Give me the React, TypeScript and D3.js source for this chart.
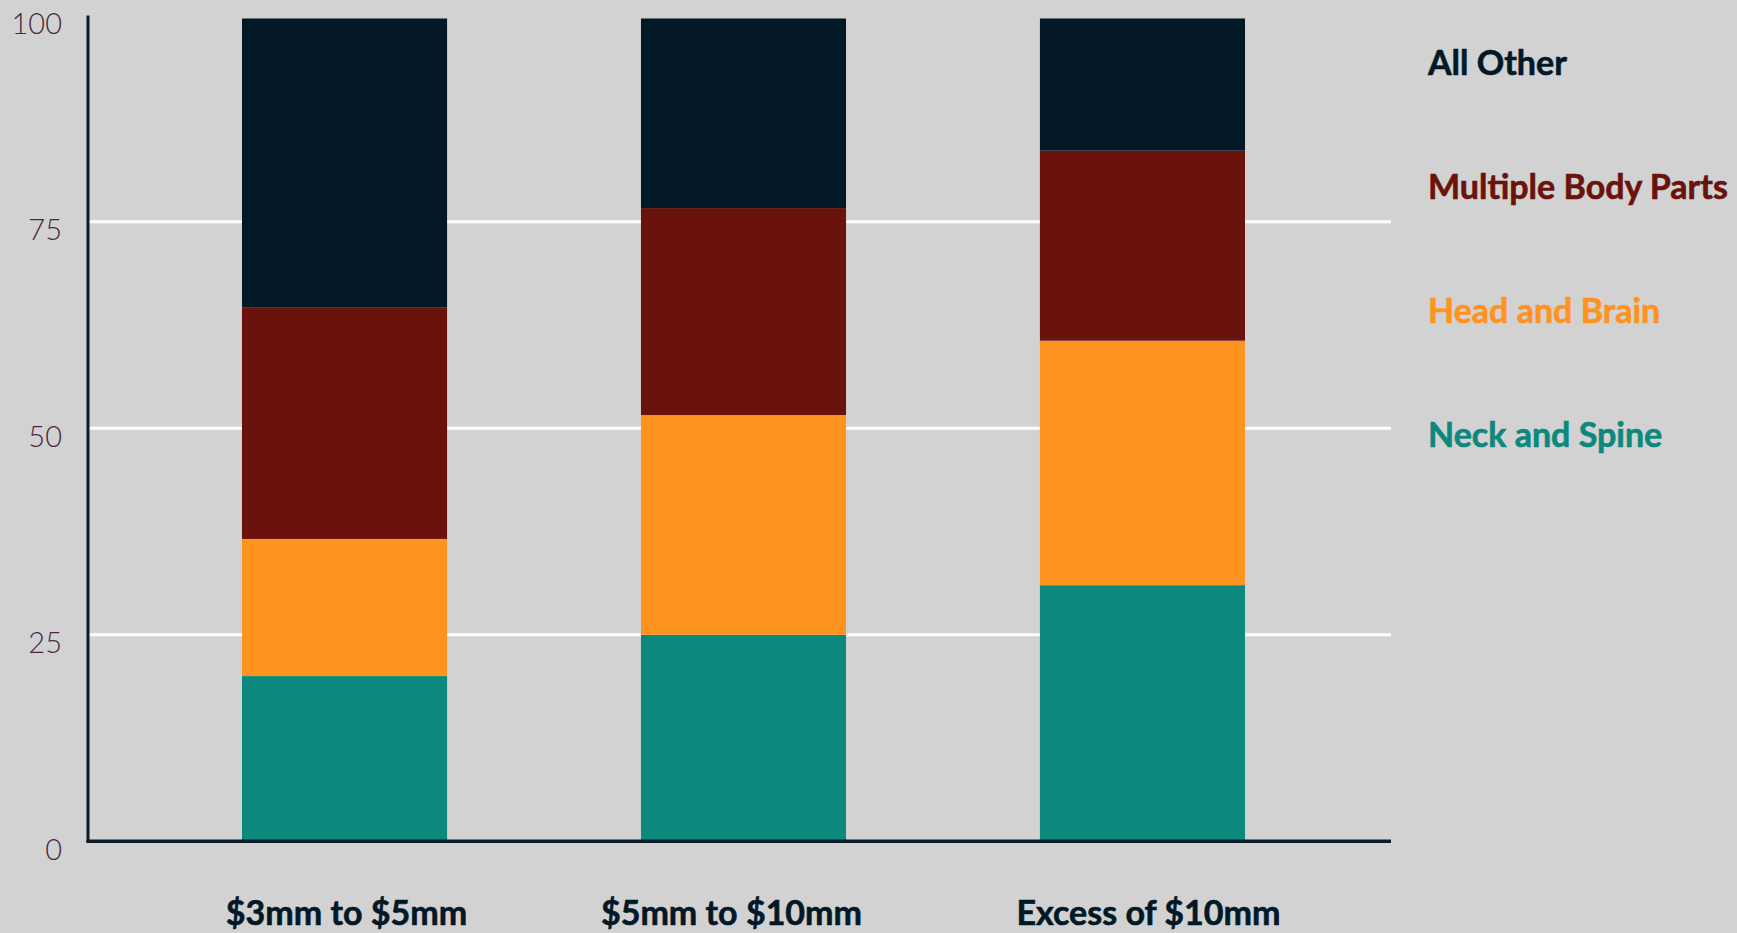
import React from "react";
import * as d3 from "d3";

const categories = ["$3mm to $5mm", "$5mm to $10mm", "Excess of $10mm"];
const seriesNames = ["Neck and Spine", "Head and Brain", "Multiple Body Parts", "All Other"];
const neckAndSpine = [20, 25, 31];
const headAndBrain = [16.6, 26.6, 29.6];
const multipleBodyParts = [28, 25.05, 23];
const allOther = [35, 22.95, 16];
const yTicks = [0, 25, 50, 75, 100];
const colors = ["#0d887c", "#ff9320", "#6a130d", "#031827"];

const W = 1737;
const H = 933;

export default function App() {
  const x = d3.scaleBand<string>().domain(categories).range([92, 1395]).paddingInner(0.486).paddingOuter(0.376);
  const y = d3.scaleLinear().domain([0, 100]).range([841.3, 15.2]);

  const rows = categories.map((c, i) => ({
    cat: c,
    "Neck and Spine": neckAndSpine[i],
    "Head and Brain": headAndBrain[i],
    "Multiple Body Parts": multipleBodyParts[i],
    "All Other": allOther[i],
  }));
  const stacked = d3.stack<any>().keys(seriesNames)(rows);

  const axisColor = "#0a1a28";
  const xLeft = 88;
  const xRight = 1391;
  const legendY = [75, 199, 323, 447];
  const legendOrder = [3, 2, 1, 0];
  const labelShift = [2, -12, 6];

  return (
    <svg
      width={W}
      height={H}
      style={{ position: "fixed", left: 0, top: 0, background: "#d2d2d2" }}
    >
      <rect x={0} y={0} width={W} height={H} fill="#d2d2d2" />
      {yTicks
        .filter((t) => t > 0 && t < 100)
        .map((t) => (
          <line key={t} x1={xLeft} x2={xRight} y1={y(t)} y2={y(t)} stroke="#ffffff" strokeWidth={3} />
        ))}
      {stacked.map((s, si) => (
        <g key={s.key} fill={colors[si]}>
          {s.map((d, i) => (
            <rect
              key={i}
              x={x(categories[i])}
              y={y(d[1])}
              width={x.bandwidth()}
              height={y(d[0]) - y(d[1])}
            />
          ))}
        </g>
      ))}
      <line x1={xLeft} x2={xLeft} y1={15.5} y2={843} stroke={axisColor} strokeWidth={3} />
      <line x1={xLeft - 1.5} x2={xRight} y1={y(0)} y2={y(0)} stroke={axisColor} strokeWidth={3.5} />
      {yTicks.map((t) => (
        <text
          key={t}
          x={62}
          y={y(t) + 18.5}
          textAnchor="end"
          fontFamily="Lato, sans-serif"
          fontWeight={300}
          fontSize={29}
          fill="#4b2840"
        >
          {t}
        </text>
      ))}
      {categories.map((c, i) => (
        <text
          key={c}
          x={(x(c) as number) + x.bandwidth() / 2 + labelShift[i]}
          y={925}
          textAnchor="middle"
          fontFamily="Lato, sans-serif"
          fontWeight={700}
          fontSize={34}
          fill="#031827"
          stroke="#031827"
          strokeWidth={0.6}
        >
          {c}
        </text>
      ))}
      {legendOrder.map((si, k) => (
        <text
          key={seriesNames[si]}
          x={1428}
          y={legendY[k]}
          fontFamily="Lato, sans-serif"
          fontWeight={700}
          fontSize={34}
          fill={colors[si]}
          stroke={colors[si]}
          strokeWidth={0.6}
        >
          {seriesNames[si]}
        </text>
      ))}
    </svg>
  );
}
